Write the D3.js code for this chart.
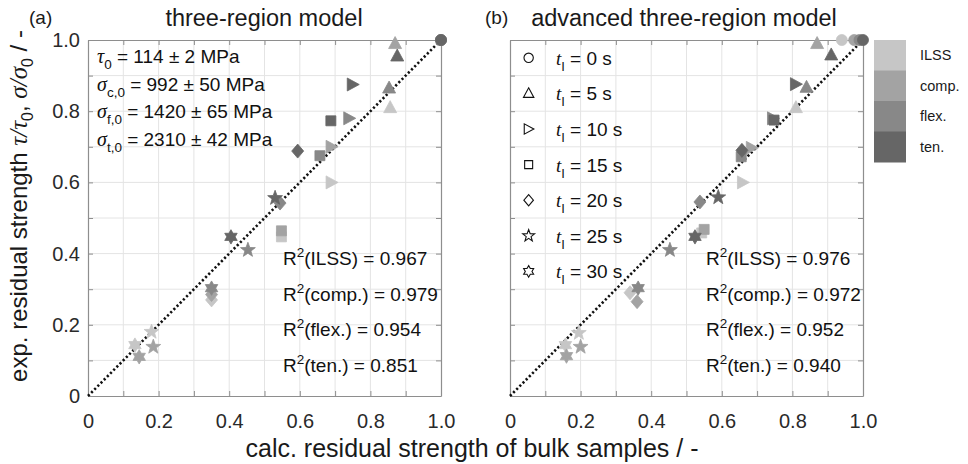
<!DOCTYPE html>
<html>
<head>
<meta charset="utf-8">
<script src="https://cdn.jsdelivr.net/npm/d3@7"></script>
<style>
  html, body { margin: 0; padding: 0; background: #fff; }
  svg { display: block; font-family: "Liberation Sans", Arial, sans-serif; }
</style>
</head>
<body>
<script>
// Residual strength: calculated (bulk samples) vs. experimental, per exposure time
const times = [0, 5, 10, 15, 20, 25, 30];
const tests = ["ILSS", "comp.", "flex.", "ten."];
const tickLabels = ["0", "0.2", "0.4", "0.6", "0.8", "1.0"];

// (a) three-region model, values ordered by exposure time
const calcA_ILSS = [1.00, 0.856, 0.69, 0.548, 0.35, 0.18, 0.133];
const expA_ILSS  = [1.00, 0.81, 0.60, 0.447, 0.27, 0.18, 0.143];
const calcA_comp = [1.00, 0.87, 0.69, 0.548, 0.35, 0.185, 0.145];
const expA_comp  = [1.00, 0.99, 0.70, 0.464, 0.285, 0.138, 0.11];
const calcA_flex = [1.00, 0.853, 0.74, 0.657, 0.544, 0.453, 0.35];
const expA_flex  = [1.00, 0.865, 0.78, 0.675, 0.542, 0.41, 0.303];
const calcA_ten  = [1.00, 0.876, 0.75, 0.688, 0.594, 0.53, 0.405];
const expA_ten   = [1.00, 0.955, 0.875, 0.773, 0.688, 0.556, 0.447];

// (b) advanced three-region model
const calcB_ILSS = [0.94, 0.81, 0.66, 0.543, 0.34, 0.195, 0.157];
const expB_ILSS  = [1.00, 0.81, 0.60, 0.458, 0.29, 0.177, 0.143];
const calcB_comp = [0.975, 0.87, 0.685, 0.55, 0.36, 0.20, 0.16];
const expB_comp  = [1.00, 0.99, 0.697, 0.468, 0.265, 0.138, 0.112];
const calcB_flex = [0.99, 0.84, 0.745, 0.655, 0.538, 0.453, 0.363];
const expB_flex  = [1.00, 0.867, 0.78, 0.672, 0.545, 0.41, 0.303];
const calcB_ten  = [1.00, 0.91, 0.81, 0.748, 0.657, 0.59, 0.524];
const expB_ten   = [1.00, 0.958, 0.876, 0.775, 0.69, 0.558, 0.447];

const r2A = ["0.967", "0.979", "0.954", "0.851"];
const r2B = ["0.976", "0.972", "0.952", "0.940"];

// reference strengths of the unexposed material
const refSub = ["0", "c,0", "f,0", "t,0"];
const refVal = ["114 ± 2", "992 ± 50", "1420 ± 65", "2310 ± 42"];

// ---------------------------------------------------------------------------
const W = 968, H = 464;
const plotTop = 40, plotBottom = 396;
const shades = ["#c6c6c6", "#a3a3a3", "#888888", "#666666"];
const shapeNames = ["circle", "triangle", "right", "square", "diamond", "star5", "star6"];

function starPath(n, R, r) {
  const pts = [];
  for (let i = 0; i < 2 * n; i++) {
    const a = -Math.PI / 2 + i * Math.PI / n;
    const rad = i % 2 === 0 ? R : r;
    pts.push([rad * Math.cos(a), rad * Math.sin(a)]);
  }
  return "M" + pts.map(p => p[0].toFixed(2) + "," + p[1].toFixed(2)).join("L") + "Z";
}
function shapePath(name, s) {
  // s scales the marker (1 = filled data marker)
  switch (name) {
    case "circle":   return d3.arc()({innerRadius: 0, outerRadius: 5.5 * s, startAngle: 0, endAngle: 2 * Math.PI});
    case "triangle": return `M0,${-7 * s}L${6.5 * s},${5 * s}L${-6.5 * s},${5 * s}Z`;
    case "right":    return `M${6.5 * s},0L${-5.5 * s},${-6.5 * s}L${-5.5 * s},${6.5 * s}Z`;
    case "square":   return `M${-5 * s},${-5 * s}h${10 * s}v${10 * s}h${-10 * s}Z`;
    case "diamond":  return `M0,${-7 * s}L${6 * s},0L0,${7 * s}L${-6 * s},0Z`;
    case "star5":    return starPath(5, 7.8 * s, 3.2 * s);
    case "star6":    return starPath(6, 7.2 * s, 4.16 * s);
  }
}

const svg = d3.select("body").append("svg").attr("width", W).attr("height", H);
svg.append("rect").attr("width", W).attr("height", H).attr("fill", "#fff");

const panels = [
  { left: 88, right: 441, title: "three-region model", tag: "(a)", tagX: 29, titleX: 264,
    calc: [calcA_ILSS, calcA_comp, calcA_flex, calcA_ten],
    exp:  [expA_ILSS, expA_comp, expA_flex, expA_ten], r2: r2A, r2x: 283, yLabels: true },
  { left: 510, right: 863, title: "advanced three-region model", tag: "(b)", tagX: 485, titleX: 684,
    calc: [calcB_ILSS, calcB_comp, calcB_flex, calcB_ten],
    exp:  [expB_ILSS, expB_comp, expB_flex, expB_ten], r2: r2B, r2x: 706, yLabels: false }
];

const ticks = d3.range(0, 11).map(i => i / 10);

panels.forEach((p, pi) => {
  const x = d3.scaleLinear().domain([0, 1]).range([p.left, p.right]);
  const y = d3.scaleLinear().domain([0, 1]).range([plotBottom, plotTop]);
  const g = svg.append("g");

  // grid
  g.append("g").selectAll("line").data(ticks.slice(1, -1)).join("line")
    .attr("x1", d => x(d)).attr("x2", d => x(d)).attr("y1", plotTop).attr("y2", plotBottom)
    .attr("stroke", "#e4e4e4").attr("stroke-width", 1);
  g.append("g").selectAll("line").data(ticks.slice(1, -1)).join("line")
    .attr("y1", d => y(d)).attr("y2", d => y(d)).attr("x1", p.left).attr("x2", p.right)
    .attr("stroke", "#e4e4e4").attr("stroke-width", 1);

  // axes with inward ticks on all sides
  const fmt = d => { const i = Math.round(d * 10); return i % 2 === 0 ? tickLabels[i / 2] : ""; };
  const axStyle = sel => {
    sel.select(".domain").attr("stroke", "#8e8e8e").attr("stroke-width", 1.2);
    sel.selectAll(".tick line").attr("stroke", "#8e8e8e");
    sel.selectAll("text").attr("font-size", 20).attr("fill", "#2a2a2a")
      .attr("font-family", "'Liberation Sans', Arial, sans-serif");
  };
  g.append("g").attr("transform", `translate(0,${plotBottom})`)
    .call(d3.axisBottom(x).tickValues(ticks).tickSize(-5).tickSizeOuter(0).tickPadding(18).tickFormat(fmt))
    .call(axStyle);
  g.append("g").attr("transform", `translate(0,${plotTop})`)
    .call(d3.axisTop(x).tickValues(ticks).tickSize(-5).tickSizeOuter(0).tickFormat(""))
    .call(axStyle);
  g.append("g").attr("transform", `translate(${p.left},0)`)
    .call(d3.axisLeft(y).tickValues(ticks).tickSize(-5).tickSizeOuter(0).tickPadding(8)
      .tickFormat(p.yLabels ? fmt : ""))
    .call(axStyle);
  g.append("g").attr("transform", `translate(${p.right},0)`)
    .call(d3.axisRight(y).tickValues(ticks).tickSize(-5).tickSizeOuter(0).tickFormat(""))
    .call(axStyle);

  // legend of exposure times (panel b)
  if (pi === 1) {
    const lg = g.append("g");
    times.forEach((t, i) => {
      const cy = y(0.95 - i * 0.1);
      lg.append("path").attr("d", shapePath(shapeNames[i], i === 0 ? 0.85 : 0.8))
        .attr("transform", `translate(${x(0.05) + 1},${cy})`)
        .attr("fill", "none").attr("stroke", "#111").attr("stroke-width", 1.1);
      const tx = lg.append("text").attr("x", x(0.13)).attr("y", cy + 7).attr("font-size", 19).attr("fill", "#111");
      tx.append("tspan").attr("font-style", "italic").attr("font-family", "'Liberation Serif', serif").text("t");
      tx.append("tspan").attr("font-size", 13).attr("dy", 6).text("I");
      tx.append("tspan").attr("dy", -6).text(` = ${t} s`);
    });
  }

  // reference strengths (panel a)
  if (pi === 0) {
    refSub.forEach((s, i) => {
      const t = g.append("text").attr("x", 97).attr("y", 63 + i * 27.5).attr("font-size", 19).attr("fill", "#111");
      t.append("tspan").attr("font-style", "italic").attr("font-family", "'Liberation Serif', serif")
        .attr("font-size", 20).text(i === 0 ? "τ" : "σ");
      t.append("tspan").attr("font-size", 13.5).attr("dy", 6).text(s);
      t.append("tspan").attr("dy", -6).text(` = ${refVal[i]} MPa`);
    });
  }

  // identity line
  g.append("path").datum([0, 1])
    .attr("d", d3.line().x(d => x(d)).y(d => y(d)))
    .attr("stroke", "#111").attr("stroke-width", 2.6).attr("stroke-dasharray", "2.2,2.3").attr("fill", "none");

  // data markers: shade = test type, shape = exposure time
  tests.forEach((test, k) => {
    const pts = times.map((t, i) => ({ i, cx: p.calc[k][i], cy: p.exp[k][i] }));
    g.append("g").selectAll("path").data(pts).join("path")
      .attr("d", d => shapePath(shapeNames[d.i], 1))
      .attr("transform", d => `translate(${x(d.cx)},${y(d.cy)})`)
      .attr("fill", shades[k]).attr("stroke", shades[k]).attr("stroke-width", 0.8);
  });

  // coefficients of determination
  tests.forEach((test, k) => {
    const t = g.append("text").attr("x", p.r2x).attr("y", 265 + k * 35.5).attr("font-size", 19).attr("fill", "#111");
    t.append("tspan").text("R");
    t.append("tspan").attr("font-size", 13.5).attr("dy", -8).text("2");
    t.append("tspan").attr("dy", 8).text(`(${test}) = ${p.r2[k]}`);
  });

  // title and panel tag
  svg.append("text").attr("x", p.titleX).attr("y", 26).attr("text-anchor", "middle")
    .attr("font-size", 23.5).attr("fill", "#1a1a1a").text(p.title);
  svg.append("text").attr("x", p.tagX).attr("y", 24)
    .attr("font-size", 19).attr("fill", "#1a1a1a").text(p.tag);
});

// shade key for the test types
const cb = svg.append("g");
const cbY = d3.scaleBand().domain(tests).range([40, 162]);
cb.selectAll("rect").data(tests).join("rect")
  .attr("x", 874).attr("width", 32).attr("y", d => cbY(d)).attr("height", cbY.bandwidth() + 0.5)
  .attr("fill", (d, i) => shades[i]);
cb.selectAll("text").data(tests).join("text")
  .attr("x", 920).attr("y", d => cbY(d) + cbY.bandwidth() / 2 + 5)
  .attr("font-size", 14.5).attr("fill", "#1a1a1a").text(d => d);

// axis titles
const yl = svg.append("text").attr("transform", "translate(27,206) rotate(-90)")
  .attr("text-anchor", "middle").attr("font-size", 24).attr("fill", "#1a1a1a");
yl.append("tspan").text("exp. residual strength ");
const greek = (s) => yl.append("tspan").attr("font-style", "italic")
  .attr("font-family", "'Liberation Serif', serif").attr("font-size", 25).text(s);
greek("τ/τ");
yl.append("tspan").attr("font-size", 16).attr("dy", 6).text("0");
yl.append("tspan").attr("dy", -6).text(", ");
greek("σ/σ");
yl.append("tspan").attr("font-size", 16).attr("dy", 6).text("0");
yl.append("tspan").attr("dy", -6).text(" / -");

svg.append("text").attr("x", 472).attr("y", 457).attr("text-anchor", "middle")
  .attr("font-size", 25).attr("fill", "#1a1a1a").text("calc. residual strength of bulk samples / -");
</script>
</body>
</html>
